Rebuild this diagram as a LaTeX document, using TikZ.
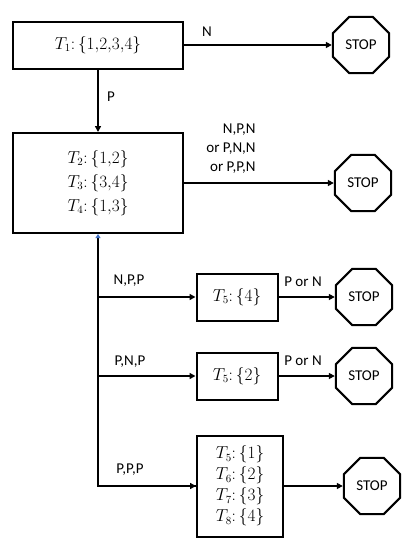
\documentclass[tikz,border=0pt]{standalone}
\usepackage{fontspec}
\setmainfont{Carlito}
\usepackage{amsmath,amssymb}
\usepackage{xcolor}
\usepackage{tikz}
\usetikzlibrary{calc,arrows.meta,shapes.geometric}
\definecolor{ink}{HTML}{000000}
\definecolor{tipblue}{HTML}{4472C4}
\newcommand{\cm}{{,}}
\newcommand{\cl}{{:}\,}
\tikzset{
  box/.style={draw=ink, line width=2pt, inner sep=0pt, font=\fontsize{16}{24}\selectfont, align=center},
  stop/.style={draw=ink, line width=2pt, regular polygon, regular polygon sides=8, minimum size=61pt, inner sep=0pt, font=\fontsize{15}{18}\selectfont},
  flow/.style={draw=ink, line width=1.8pt, -{Triangle[length=6pt,width=6pt]}},
  seg/.style={draw=ink, line width=1.8pt},
  lab/.style={text=ink, font=\fontsize{15}{19}\selectfont}
}
\begin{document}
\begin{tikzpicture}[x=1pt,y=-1pt]
  \useasboundingbox (0,0) rectangle (415,546);
  \node[box, minimum width=170pt, minimum height=47pt] (t1) at (98,45) {$T_1\cl\{1\cm2\cm3\cm4\}$};
  \node[box, minimum width=170pt, minimum height=100pt] (t234) at (98,183) {$T_2\cl\{1\cm2\}$\\ $T_3\cl\{3\cm4\}$\\ $T_4\cl\{1\cm3\}$};
  \node[box, minimum width=81pt, minimum height=47pt] (t5a) at (237,297) {$T_5\cl\{4\}$};
  \node[box, minimum width=81pt, minimum height=47pt] (t5b) at (237,376) {$T_5\cl\{2\}$};
  \node[box, minimum width=86pt, minimum height=101pt, font=\fontsize{16}{21}\selectfont] (t5678) at (240,486) {$T_5\cl\{1\}$\\ $T_6\cl\{2\}$\\ $T_7\cl\{3\}$\\ $T_8\cl\{4\}$};
  \node[stop] (s1) at (361,45) {STOP};
  \node[stop] (s2) at (363,183) {STOP};
  \node[stop] (s3) at (364,297) {STOP};
  \node[stop] (s4) at (364,376) {STOP};
  \node[stop] (s5) at (372,486) {STOP};
  \draw[flow] (t1) -- (s1);
  \draw[flow] (t1) -- (t234);
  \draw[flow] (t234) -- (s2);
  \draw[seg, {Triangle[length=4pt,width=5pt,color=tipblue]}-] (t234.south) |- (t5678.west);
  \draw[flow] (t234.south |- t5678.west) -- (t5678);
  \draw[flow] (t234.south |- t5a.west) -- (t5a);
  \draw[flow] (t234.south |- t5b.west) -- (t5b);
  \draw[flow] (t5a) -- (s3);
  \draw[flow] (t5b) -- (s4);
  \draw[flow] (t5678) -- (s5);
  \node[lab] (nN) at (207,32) {N};
  \node[lab] (nP) at (111,97) {P};
  \node[lab, align=right] (nNPN) at (231,149) {N,P,N\\ or P,N,N\\ or P,P,N};
  \node[lab] (nNPP) at (129,281) {N,P,P};
  \node[lab] (nPNP) at (130,362) {P,N,P};
  \node[lab] (nPPP) at (130,470) {P,P,P};
  \node[lab] (nPoN1) at (303,282) {P or N};
  \node[lab] (nPoN2) at (303,361) {P or N};
\end{tikzpicture}
\end{document}
